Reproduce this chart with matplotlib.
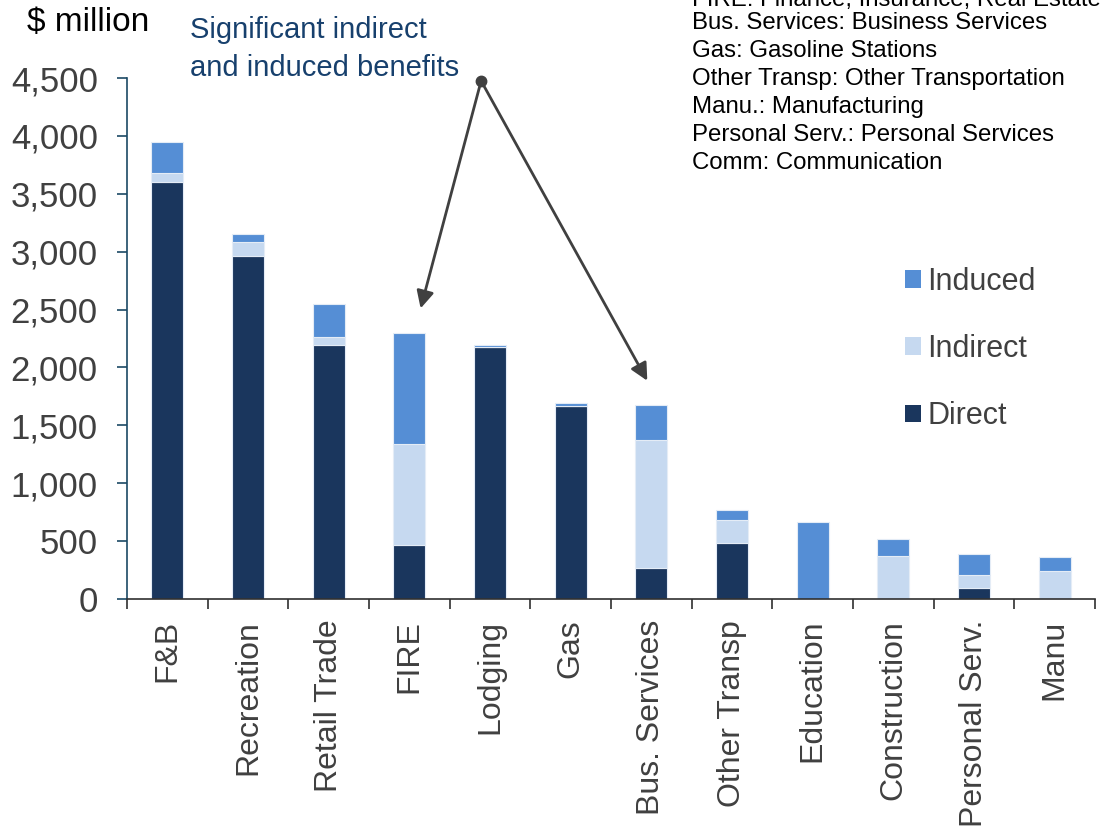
import numpy as np
import matplotlib.pyplot as plt
from matplotlib.patches import Patch
from matplotlib.ticker import FuncFormatter, FixedLocator

plt.rcParams['font.family'] = ['Liberation Sans', 'DejaVu Sans']

industries = ['F&B', 'Recreation', 'Retail Trade', 'FIRE', 'Lodging', 'Gas',
              'Bus. Services', 'Other Transp', 'Education', 'Construction',
              'Personal Serv.', 'Manu']
direct = [3600, 2960, 2190, 470, 2180, 1670, 265, 480, 0, 0, 95, 0]
indirect = [80, 120, 70, 870, 0, 0, 1105, 200, 0, 370, 115, 240]
induced = [270, 70, 290, 960, 10, 20, 305, 85, 665, 150, 175, 125]

abbreviations = [
    'FIRE: Finance, Insurance, Real Estate',
    'Bus. Services: Business Services',
    'Gas: Gasoline Stations',
    'Other Transp: Other Transportation',
    'Manu.: Manufacturing',
    'Personal Serv.: Personal Services',
    'Comm: Communication',
]

# industries pointed at by the callout arrows
highlighted = ['FIRE', 'Bus. Services']

C_DIRECT = '#1a365d'
C_INDIRECT = '#c6d9f0'
C_INDUCED = '#558ed5'
TEXT = '#404040'

W, H = 1108, 832
fig = plt.figure(figsize=(W / 100, H / 100), dpi=100)
ax = fig.add_axes([127 / W, 1 - 599 / H, (1095 - 127) / W, 521 / H])

x = np.arange(len(industries))
direct = np.array(direct)
indirect = np.array(indirect)
induced = np.array(induced)
bar_kw = dict(width=0.4, edgecolor='#e4ecf6', linewidth=0.8)
ax.bar(x, direct, color=C_DIRECT, **bar_kw)
ax.bar(x, indirect, bottom=direct, color=C_INDIRECT, **bar_kw)
ax.bar(x, induced, bottom=direct + indirect, color=C_INDUCED, **bar_kw)

ax.set_xlim(-0.5, len(industries) - 0.5)
ax.set_ylim(0, 4500)
ax.set_yticks(np.arange(0, 4501, 500))
ax.yaxis.set_major_formatter(FuncFormatter(lambda v, _: f'{v:,.0f}'))
ax.tick_params(axis='y', direction='out', length=7, width=1.2, colors='#1b4965',
               labelcolor=TEXT, labelsize=25, pad=14)

ax.set_xticks(x)
ax.set_xticklabels(industries, rotation=90, fontsize=23, color=TEXT)
ax.xaxis.set_minor_locator(FixedLocator(np.arange(-0.5, len(industries), 1.0)))
ax.tick_params(axis='x', which='major', length=0, pad=15)
ax.tick_params(axis='x', which='minor', direction='out', length=7, width=1.2,
               colors='#303030')

for side in ['top', 'right']:
    ax.spines[side].set_visible(False)
ax.spines['left'].set_color('#1b4965')
ax.spines['left'].set_linewidth(1.2)
ax.spines['bottom'].set_color('#303030')
ax.spines['bottom'].set_linewidth(1.2)

# callout: one dot, arrows down to the bars with large indirect/induced shares
totals = direct + indirect + induced
origin = (3.89, 4475)
ax.plot(*origin, 'o', color='#404040', markersize=7.5, clip_on=False, zorder=5)
for name, dx in zip(highlighted, [0.14, -0.05]):
    i = industries.index(name)
    ax.annotate('', xy=(i + dx, totals[i] + 210), xytext=origin,
                arrowprops=dict(arrowstyle='-|>', color='#404040', lw=2,
                                mutation_scale=26, shrinkA=0, shrinkB=0),
                annotation_clip=False)

fig.text(190 / W, 1 - 30 / H, 'Significant indirect', fontsize=21,
         color='#17406d', ha='left', va='center')
fig.text(190 / W, 1 - 68 / H, 'and induced benefits', fontsize=21,
         color='#17406d', ha='left', va='center')
fig.text(27 / W, 1 - 22 / H, '$ million', fontsize=24, color='black',
         ha='left', va='center')

# abbreviation key, first line runs off the top edge
baselines = [6] + [29 + 28 * k for k in range(len(abbreviations) - 1)]
for line, yb in zip(abbreviations, baselines):
    fig.text(692 / W, 1 - yb / H, line, fontsize=17.3, color='black',
             ha='left', va='baseline')

handles = [Patch(facecolor=C_INDUCED, label='Induced'),
           Patch(facecolor=C_INDIRECT, label='Indirect'),
           Patch(facecolor=C_DIRECT, label='Direct')]
leg = fig.legend(handles=handles, loc='center left',
                 bbox_to_anchor=(893 / W, 1 - 349 / H), frameon=False,
                 fontsize=22, handlelength=0.5, handleheight=0.5,
                 handletextpad=0.22, labelspacing=1.22, borderaxespad=0)
for t in leg.get_texts():
    t.set_color(TEXT)

fig.savefig('out.png', dpi=100)
